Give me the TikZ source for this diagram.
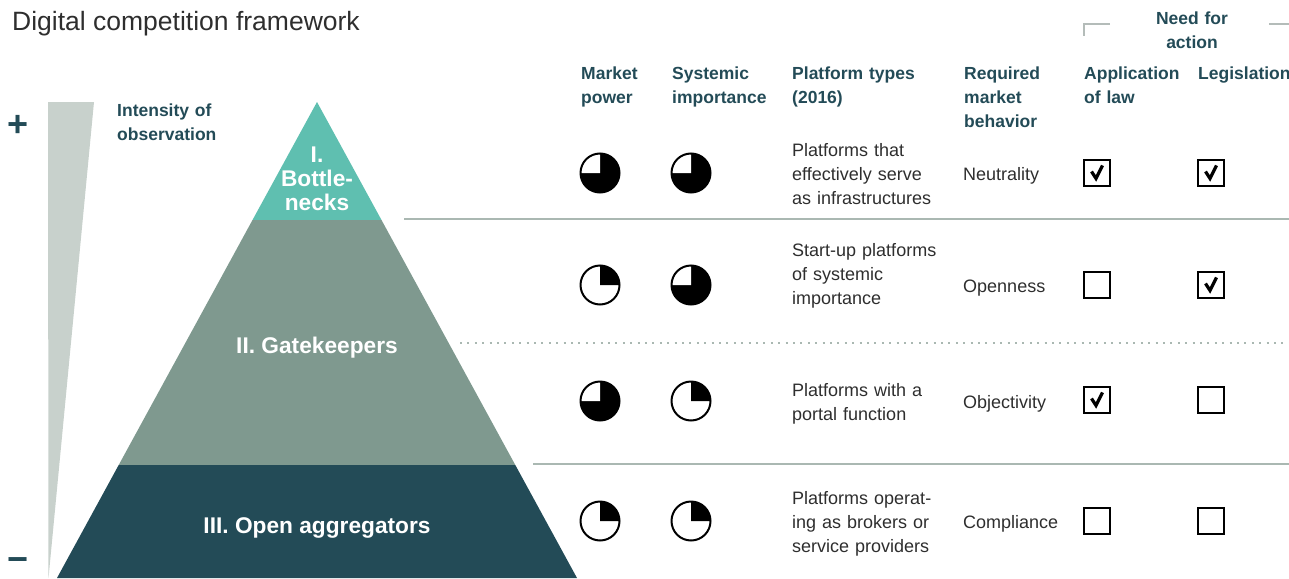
\documentclass[tikz,border=0pt]{standalone}
\usepackage{fontspec}
\setmainfont{Liberation Sans}
\definecolor{headc}{HTML}{234B57}
\definecolor{bodyc}{HTML}{2E2E2E}
\definecolor{tierA}{HTML}{5FBFB0}
\definecolor{tierB}{HTML}{7F998F}
\definecolor{tierC}{HTML}{234B57}
\definecolor{wedgec}{HTML}{C8D1CC}
\definecolor{sepc}{HTML}{AAB8B2}
\definecolor{brackc}{HTML}{B4BCB9}
\tikzset{
  hdr/.style={font=\bfseries\fontsize{17.5}{24}\selectfont, text=headc, align=left, text width=#1, anchor=base west, inner sep=0pt},
  hdr/.default=120pt,
  body/.style={font=\fontsize{18}{24}\selectfont, text=bodyc, align=left, text width=#1, anchor=base west, inner sep=0pt},
  body/.default=170pt,
  tierlab/.style={font=\bfseries\fontsize{22.7}{23.8}\selectfont, text=white, align=center, inner sep=0pt},
  sepline/.style={draw=sepc, line width=2pt},
  dotline/.style={draw=sepc, line width=2pt, dash pattern=on 2pt off 5.4pt},
  brack/.style={draw=brackc, line width=1.5pt},
  chk/.style={draw=black, line width=2.3pt, minimum size=25.5pt, inner sep=0pt, fill=white},
  chkon/.style={chk, path picture={\draw[line width=3.2pt, line join=miter]
      ([shift={(-5.5pt,1.5pt)}]path picture bounding box.center) --
      ([shift={(-1pt,-5.5pt)}]path picture bounding box.center) --
      ([shift={(5.5pt,7.5pt)}]path picture bounding box.center);}},
  pics/pieHi/.style={code={
      \fill[black] (0,0) circle[radius=19.5pt];
      \fill[white] (0,0) -- (0pt,19.5pt) arc[start angle=90,end angle=180,radius=19.5pt] -- cycle;
      \draw[black, line width=2pt] (0,0) circle[radius=19.5pt];}},
  pics/pieLo/.style={code={
      \fill[white] (0,0) circle[radius=19.5pt];
      \fill[black] (0,0) -- (19.5pt,0pt) arc[start angle=0,end angle=90,radius=19.5pt] -- cycle;
      \draw[black, line width=2pt] (0,0) circle[radius=19.5pt];}}
}
\begin{document}
\begin{tikzpicture}[x=1pt,y=-1pt]
\useasboundingbox (0,0) rectangle (1289,578);
% title
\node[anchor=base west, inner sep=0pt, font=\fontsize{26.5}{30}\selectfont, text=bodyc] (title) at (12,31) {Digital competition framework};
% wedge
\coordinate (wTL) at (48,102);
\coordinate (wTR) at (94,102);
\coordinate (wB) at (48.5,578);
\fill[wedgec] (wTL) -- (wTR) -- (wB) -- cycle;
\node[font=\bfseries\fontsize{36}{36}\selectfont, text=headc, inner sep=0pt] (plus) at (18,126) {+};
\node[font=\bfseries\fontsize{36}{36}\selectfont, text=headc, inner sep=0pt, anchor=base] (minus) at (18,571) {−};
\node[hdr] (intens) at (117,116) {Intensity of\\observation};
% pyramid
\coordinate (apex) at (317,102);
\coordinate (aL) at (252.5,220);
\coordinate (aR) at (381.5,220);
\coordinate (bL) at (118.7,465);
\coordinate (bR) at (515.3,465);
\coordinate (cL) at (57,578);
\coordinate (cR) at (577,578);
\fill[tierA] (apex) -- (aR) -- (aL) -- cycle;
\fill[tierB] (aL) -- (aR) -- (bR) -- (bL) -- cycle;
\fill[tierC] (bL) -- (bR) -- (cR) -- (cL) -- cycle;
\node[tierlab] (t1) at (317,178.5) {I.\\Bottle-\\necks};
\node[tierlab, anchor=base] (t2) at (317,353) {II. Gatekeepers};
\node[tierlab, anchor=base] (t3) at (317,533) {III. Open aggregators};
% separators
\coordinate (s1a) at (404,219); \coordinate (s1b) at (1289,219);
\coordinate (s2a) at (460,343); \coordinate (s2b) at (1289,343);
\coordinate (s3a) at (533,464); \coordinate (s3b) at (1289,464);
\draw[sepline] (s1a) -- (s1b);
\draw[dotline] (s2a) -- (s2b);
\draw[sepline] (s3a) -- (s3b);
% need for action
\node[hdr=110pt, align=center, anchor=base] (need) at (1192,25) {Need for\\action};
\coordinate (bk1) at (1110,24); \coordinate (bk2) at (1084,24); \coordinate (bk3) at (1084,36);
\coordinate (bk4) at (1269,24); \coordinate (bk5) at (1289,24);
\draw[brack] (bk1) -- (bk2) -- (bk3);
\draw[brack] (bk4) -- (bk5);
% headers
\node[hdr] (hMP) at (581,79) {Market\\power};
\node[hdr] (hSI) at (672,79) {Systemic\\importance};
\node[hdr=150pt] (hPT) at (792,79) {Platform types\\(2016)};
\node[hdr] (hRB) at (964,79) {Required\\market\\behavior};
\node[hdr] (hAL) at (1084,79) {Application\\of law};
\node[hdr] (hLG) at (1198,79) {Legislation};
% row 1
\pic at (600,173) {pieHi};
\pic at (691,173) {pieHi};
\node[body] (p1) at (792,156) {Platforms that\\effectively serve\\as infrastructures};
\node[body] (r1) at (963,180) {Neutrality};
\node[chkon] (a1) at (1097,173) {};
\node[chkon] (l1) at (1211,173) {};
% row 2
\pic at (600,285) {pieLo};
\pic at (691,285) {pieHi};
\node[body] (p2) at (792,256) {Start-up platforms\\of systemic\\importance};
\node[body] (r2) at (963,292) {Openness};
\node[chk] (a2) at (1097,285) {};
\node[chkon] (l2) at (1211,285) {};
% row 3
\pic at (600,401) {pieHi};
\pic at (691,401) {pieLo};
\node[body] (p3) at (792,396) {Platforms with a\\portal function};
\node[body] (r3) at (963,408) {Objectivity};
\node[chkon] (a3) at (1097,400) {};
\node[chk] (l3) at (1211,400) {};
% row 4
\pic at (600,521) {pieLo};
\pic at (691,521) {pieLo};
\node[body] (p4) at (792,504) {Platforms operat-\\ing as brokers or\\service providers};
\node[body] (r4) at (963,528) {Compliance};
\node[chk] (a4) at (1097,521) {};
\node[chk] (l4) at (1211,521) {};
\end{tikzpicture}
\end{document}
